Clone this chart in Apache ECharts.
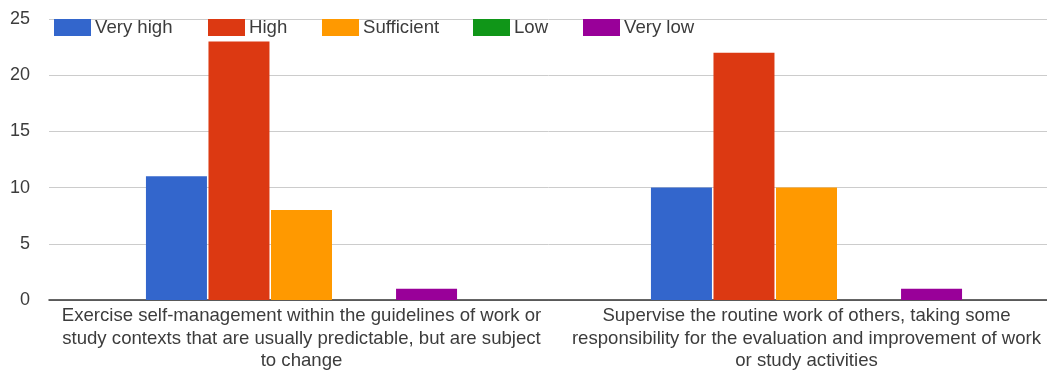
<!DOCTYPE html>
<html>
<head>
<meta charset="utf-8">
<script src="https://cdn.jsdelivr.net/npm/echarts@6/dist/echarts.min.js"></script>
<style>
  html, body { margin: 0; padding: 0; background: #fff; }
  #chart { width: 1047px; height: 372px; }
</style>
</head>
<body>
<div id="chart"></div>
<script>
// Competence statements (x-axis categories), wrapped as shown under the axis
const categories = [
  'Exercise self-management within the guidelines of work or\nstudy contexts that are usually predictable, but are subject\nto change',
  'Supervise the routine work of others, taking some\nresponsibility for the evaluation and improvement of work\nor study activities'
];

// Rating levels and their colours
const levels = ['Very high', 'High', 'Sufficient', 'Low', 'Very low'];
const levelColors = ['#3366cc', '#dc3912', '#ff9900', '#109618', '#990099'];

// Number of responses per level, one value per category
const veryHigh = [11, 10];
const high = [23, 22];
const sufficient = [8, 10];
const low = [0, 0];
const veryLow = [1, 1];
const seriesValues = [veryHigh, high, sufficient, low, veryLow];

// Y-axis range
const yMin = 0, yMax = 25, yStep = 5;

// Legend item left offsets
const legendLefts = [49, 203, 317, 468, 578];

const FONT = '"Liberation Sans", Arial, sans-serif';
const TEXT = '#3c3c3c';
const FS = 18.6;

const chart = echarts.init(document.getElementById('chart'), null, { renderer: 'canvas' });

const legends = levels.map((name, i) => ({
  data: [name],
  left: legendLefts[i],
  top: 13,
  itemWidth: 37,
  itemHeight: 17,
  itemGap: 0,
  icon: 'rect',
  selectedMode: false,
  textStyle: { fontFamily: FONT, fontSize: FS, color: TEXT, padding: [0, 0, 0, -1] }
}));

const series = levels.map((name, i) => ({
  name: name,
  type: 'bar',
  data: seriesValues[i],
  barWidth: 61,
  barGap: '2.5%',
  itemStyle: { color: levelColors[i] },
  animation: false
}));

chart.setOption({
  animation: false,
  color: levelColors,
  legend: legends,
  // plot area runs past the right edge of the canvas
  grid: {
    left: 49, width: 1010, top: 19, bottom: 72,
    containLabel: false, outerBoundsMode: 'none'
  },
  xAxis: {
    type: 'category',
    data: categories,
    axisTick: { show: false },
    axisLine: { show: true, lineStyle: { color: '#333', width: 1.5 } },
    axisLabel: {
      interval: 0,
      margin: 5,
      fontFamily: FONT,
      fontSize: FS,
      color: TEXT,
      lineHeight: 22.5,
      align: 'center',
      hideOverlap: false
    }
  },
  yAxis: {
    type: 'value',
    min: yMin,
    max: yMax,
    interval: yStep,
    axisLine: { show: false },
    axisTick: { show: false },
    splitLine: { lineStyle: { color: '#cccccc', width: 1 } },
    axisLabel: { fontFamily: FONT, fontSize: 18, color: TEXT, margin: 19 }
  },
  series: series
});
</script>
</body>
</html>
